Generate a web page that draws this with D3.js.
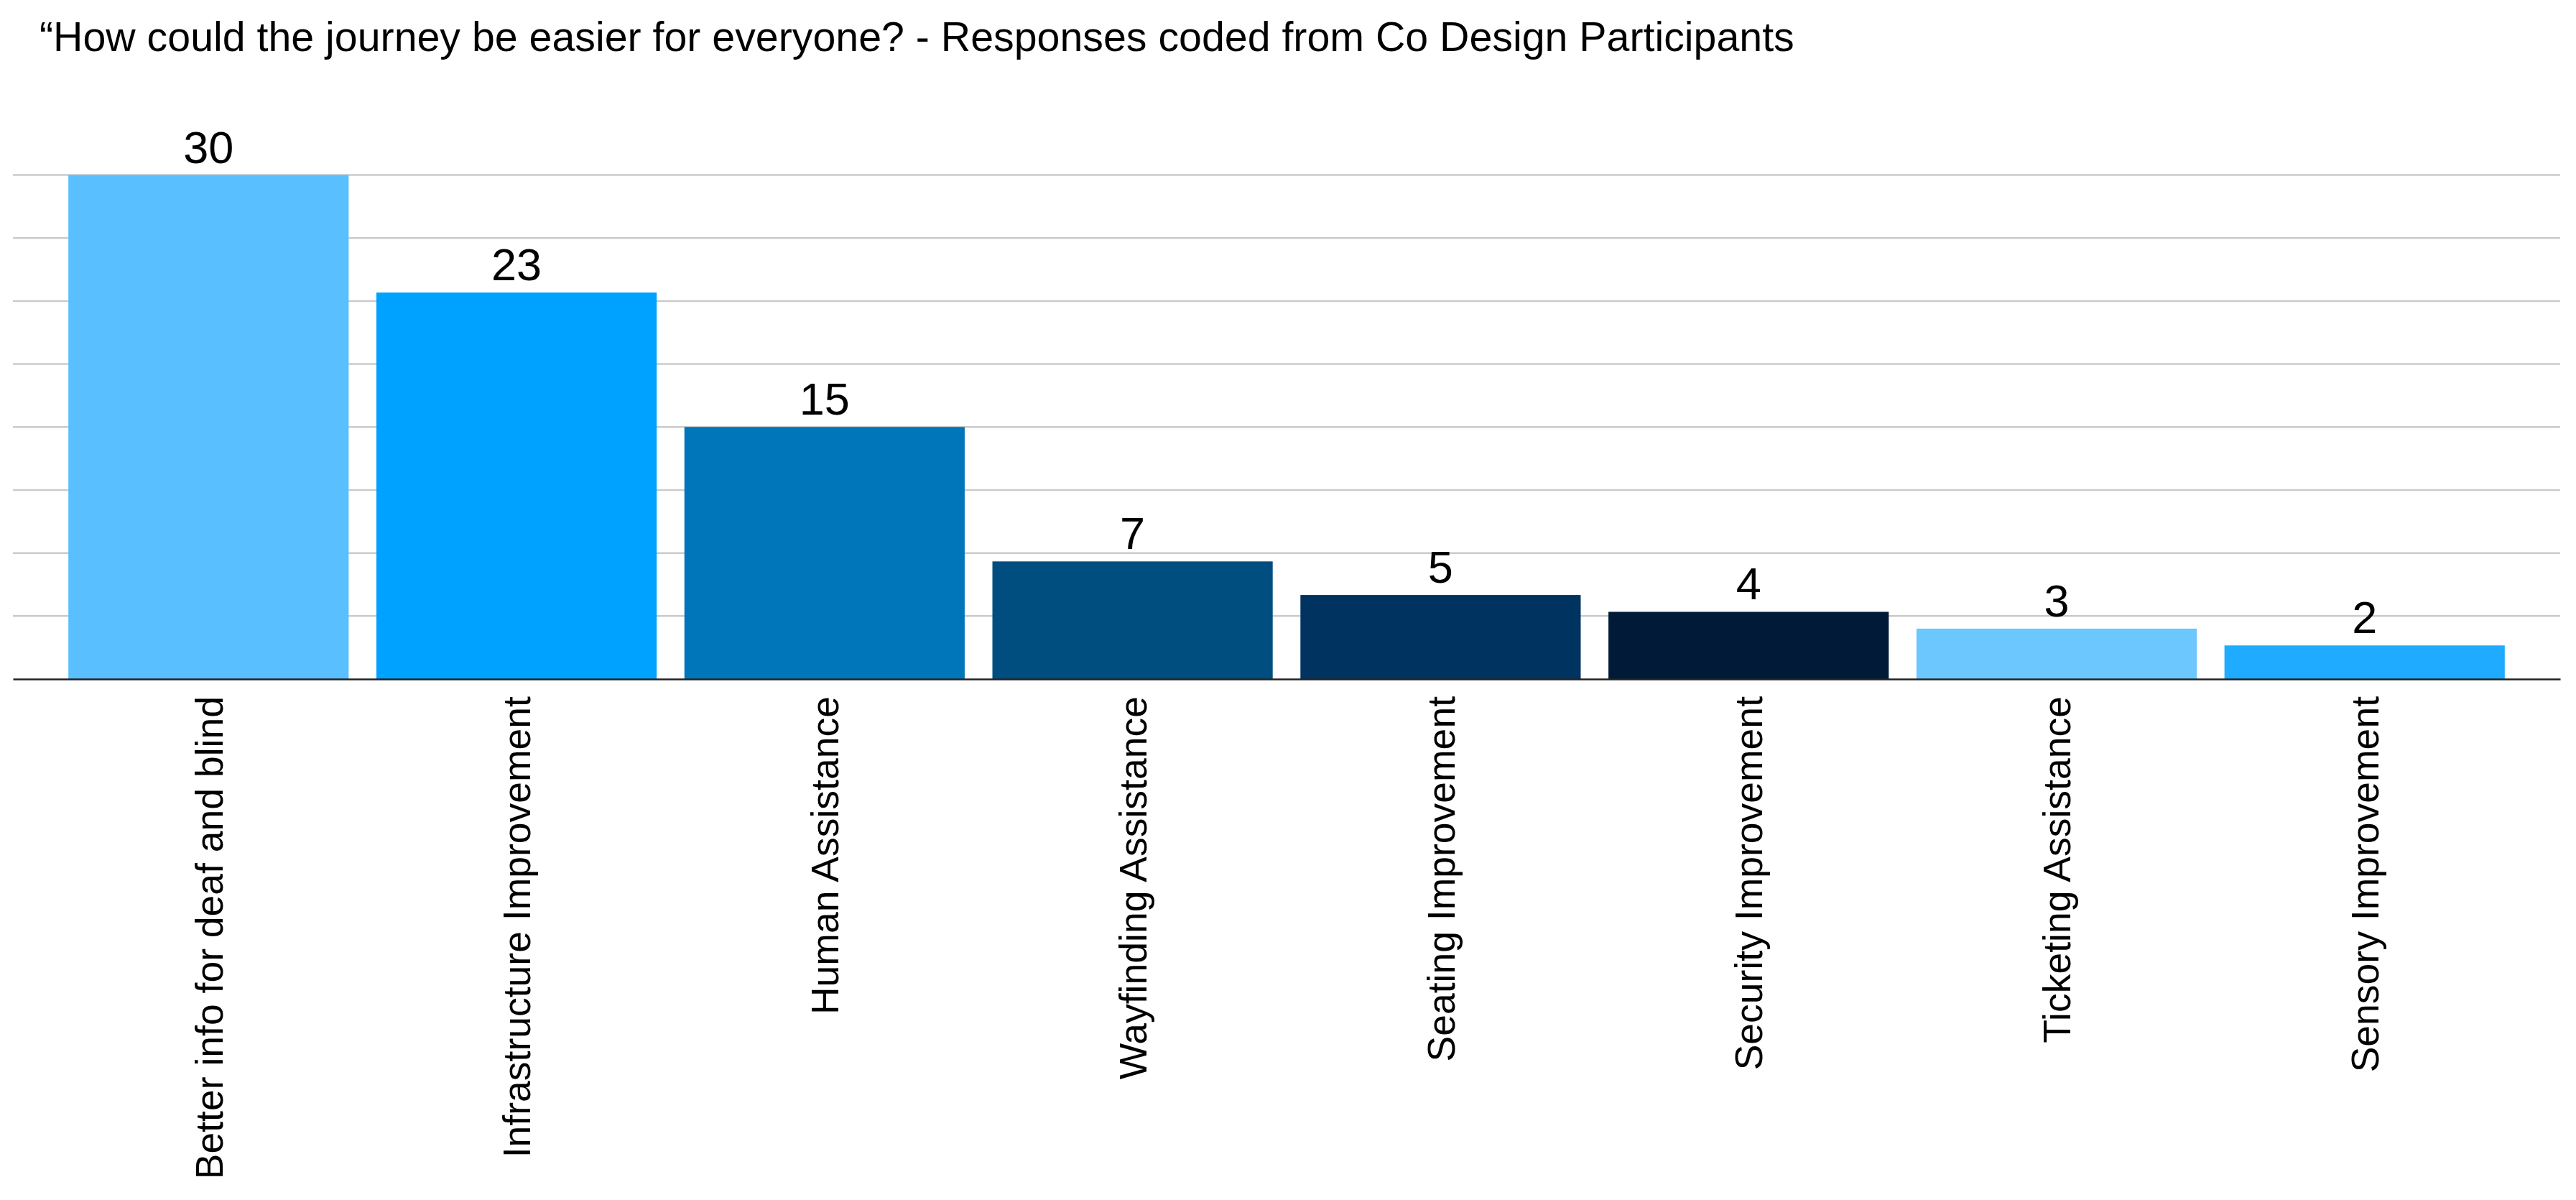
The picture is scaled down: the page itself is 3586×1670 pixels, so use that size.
<!DOCTYPE html>
<html>
<head>
<meta charset="utf-8">
<script src="https://cdn.jsdelivr.net/npm/d3@7"></script>
<style>
  body { margin: 0; background: #fff; }
  svg { display: block; font-family: "Liberation Sans", Arial, Helvetica, sans-serif; }
</style>
</head>
<body>
<div class="chart"></div>
<script>
const categories = ["Better info for deaf and blind", "Infrastructure Improvement", "Human Assistance",
  "Wayfinding Assistance", "Seating Improvement", "Security Improvement", "Ticketing Assistance", "Sensory Improvement"];
const counts = [30, 23, 15, 7, 5, 4, 3, 2];
const barColors = ["#59bfff", "#00a2ff", "#0076ba", "#004d80", "#003360", "#001a38", "#6cc7ff", "#1fabff"];
const title = "\u201cHow could the journey be easier for everyone? - Responses coded from Co Design Participants";

const data = categories.map((c, i) => ({category: c, count: counts[i], color: barColors[i]}));

const width = 3586, height = 1670;
const left = 18, right = 3564, baseY = 945, topY = 243.5;

const svg = d3.select(".chart").append("svg")
  .attr("width", width).attr("height", height);

svg.append("rect").attr("width", width).attr("height", height).attr("fill", "#fff");

let xScale = d3.scaleBand().domain(categories).range([left, right]).paddingInner(0.09).paddingOuter(0.18);
let yScale = d3.scaleLinear().domain([0, 30]).range([baseY, topY]);

// gridlines, 8 steps like the original
svg.append("g")
  .selectAll("line")
  .data(d3.range(1, 9).map(i => i * 30 / 8))
  .enter()
  .append("line")
  .attr("x1", left).attr("x2", right)
  .attr("y1", d => yScale(d)).attr("y2", d => yScale(d))
  .attr("stroke", "#cbcbcb")
  .attr("stroke-width", 2.5);

svg.append("g")
  .selectAll("rect")
  .data(data)
  .enter()
  .append("rect")
  .attr("x", d => xScale(d.category))
  .attr("y", d => yScale(d.count))
  .attr("width", xScale.bandwidth())
  .attr("height", d => baseY - yScale(d.count))
  .attr("fill", d => d.color);

// x axis
const xAxis = d3.axisBottom(xScale).tickSize(0).tickPadding(0);
const gx = svg.append("g")
  .attr("class", "axis x-axis")
  .attr("transform", `translate(0, ${baseY})`)
  .call(xAxis);
gx.select(".domain").attr("stroke", "#222").attr("stroke-width", 2.5);
gx.selectAll(".tick text")
  .attr("font-size", 53.5)
  .attr("font-family", "'Liberation Sans', Arial, sans-serif")
  .attr("fill", "#000")
  .attr("text-anchor", "end")
  .attr("transform", "rotate(-90)")
  .attr("x", -24)
  .attr("y", 0)
  .attr("dy", "0.36em");

// value labels
svg.append("g")
  .selectAll("text")
  .data(data)
  .enter()
  .append("text")
  .attr("x", d => xScale(d.category) + xScale.bandwidth() / 2)
  .attr("y", d => yScale(d.count) - 17)
  .attr("text-anchor", "middle")
  .attr("font-size", 63)
  .attr("fill", "#000")
  .text(d => d.count);

svg.append("text")
  .attr("x", 55)
  .attr("y", 71)
  .attr("font-size", 57.3)
  .attr("fill", "#000")
  .text(title);
</script>
</body>
</html>
